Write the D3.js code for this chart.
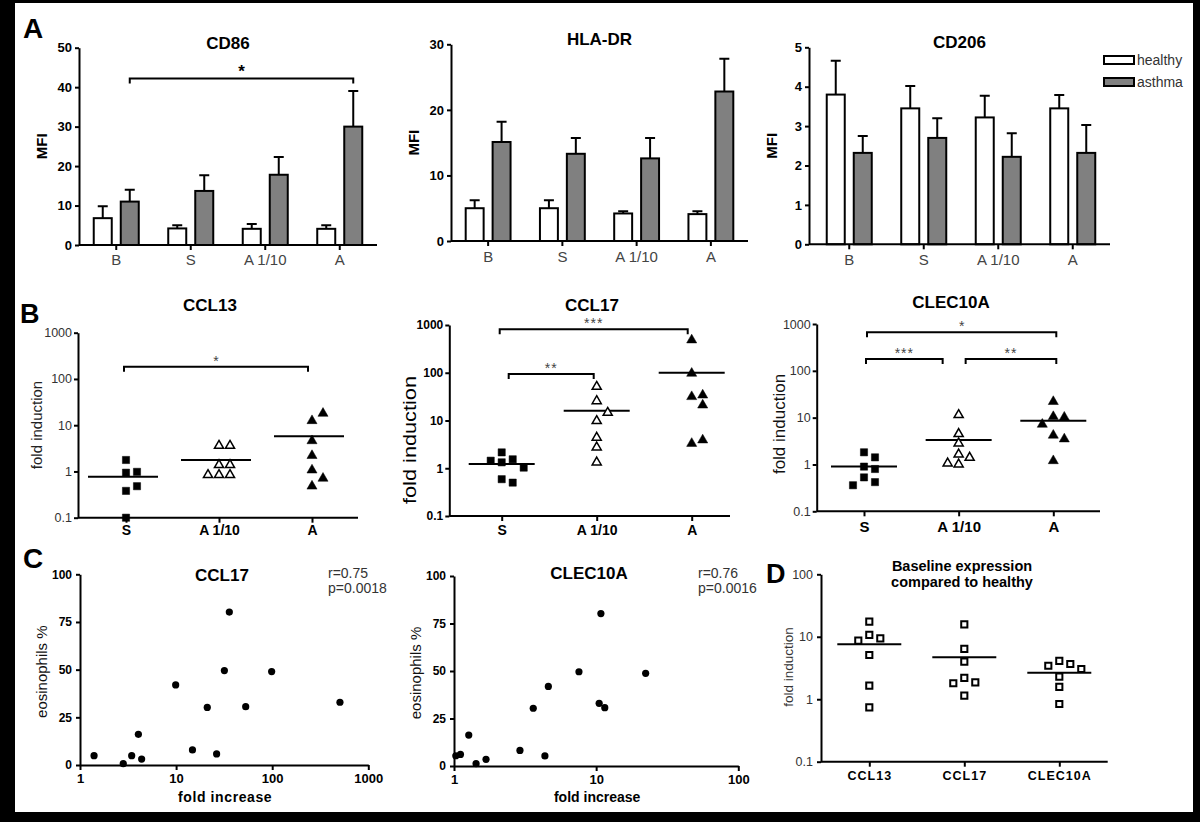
<!DOCTYPE html>
<html><head><meta charset="utf-8">
<script src="https://cdn.jsdelivr.net/npm/d3@7"></script>
<style>body{margin:0;background:#000;} svg{display:block;}</style>
</head><body><svg id="fig" width="1200" height="822"></svg>
<script>
// ---------------- DATA ----------------
// Panel A (mean MFI and SEM)
const barCategories = ["B", "S", "A 1/10", "A"];
const barSeries = ["healthy", "asthma"];
const cd86Healthy = [6.8, 4.2, 4.1, 4.1];
const cd86HealthySem = [3.0, 0.8, 1.2, 0.9];
const cd86Asthma = [11.0, 13.7, 17.8, 30.0];
const cd86AsthmaSem = [3.0, 4.0, 4.5, 9.0];
const hladrHealthy = [5.0, 5.0, 4.2, 4.1];
const hladrHealthySem = [1.2, 1.2, 0.35, 0.45];
const hladrAsthma = [15.1, 13.3, 12.6, 22.8];
const hladrAsthmaSem = [3.1, 2.4, 3.1, 5.0];
const cd206Healthy = [3.8, 3.45, 3.22, 3.45];
const cd206HealthySem = [0.86, 0.57, 0.55, 0.34];
const cd206Asthma = [2.32, 2.7, 2.22, 2.32];
const cd206AsthmaSem = [0.43, 0.5, 0.6, 0.71];
const cd86Ticks = [0, 10, 20, 30, 40, 50];
const hladrTicks = [0, 10, 20, 30];
const cd206Ticks = [0, 1, 2, 3, 4, 5];

// Panel B (fold induction, log scale)
const stimCategories = ["S", "A 1/10", "A"];
const logTicks = [0.1, 1, 10, 100, 1000];
const ccl13S = [1.77, 0.94, 0.98, 0.38, 0.48, 0.1];
const ccl13A110 = [3.6, 3.6, 1.38, 1.38, 0.84, 0.84, 0.84];
const ccl13A = [12.5, 18, 4.6, 2.2, 1.07, 0.48, 0.71];
const ccl13Median = [0.77, 1.77, 5.8];
const ccl17S = [2.15, 1.54, 1.44, 1.33, 1.03, 0.59, 0.50];
const ccl17A110 = [51, 25.6, 9.8, 14.6, 4.4, 2.74, 1.33];
const ccl17A = [485, 97, 31.5, 34, 21, 3.3, 3.9];
const ccl17Median = [1.23, 16, 100];
const clec10aS = [1.82, 1.42, 0.90, 0.80, 0.53, 0.42, 0.36];
const clec10aA110 = [11.4, 4.5, 2.83, 1.65, 1.4, 1.06, 1.01];
const clec10aA = [22, 10.5, 10.2, 7.2, 4.2, 3.5, 1.2];
const clec10aMedian = [0.90, 3.34, 8.6];

// Panel C (fold increase vs eosinophils %)
const ccl17Fold = [1.40, 2.82, 3.45, 4.05, 4.38, 9.9, 14.8, 21.1, 26.4, 31.8, 35.8, 53, 98.7, 507];
const ccl17Eos = [4.9, 0.7, 4.9, 16.1, 3.1, 42, 7.9, 30.2, 5.8, 49.5, 80.2, 30.6, 49, 32.9];
const clec10aFold = [1.03, 1.11, 1.27, 1.43, 1.68, 2.91, 3.61, 4.36, 4.61, 7.57, 10.5, 10.8, 11.5, 22.3];
const clec10aEos = [5.4, 6.1, 16.3, 1.2, 3.5, 8.2, 30.4, 5.3, 41.9, 49.6, 33, 80.2, 30.7, 48.8];
const eosTicks = [0, 25, 50, 75, 100];

// Panel D (baseline expression vs healthy)
const geneCategories = ["CCL13", "CCL17", "CLEC10A"];
const baseCCL13 = [17.5, 10.7, 9.4, 8.7, 5.1, 1.65, 0.74];
const baseCCL17 = [15.8, 6.4, 4.0, 2.2, 1.86, 1.8, 1.14];
const baseCLEC10A = [4.1, 3.66, 3.44, 3.05, 2.3, 1.58, 0.84];
const baseMedian = [7.6, 4.7, 2.66];
const baseTicks = [0.1, 1, 10, 100];

// ---------------- HELPERS ----------------
const F = '"Liberation Sans", Arial, Helvetica, sans-serif';
const svg = d3.select("#fig");
svg.append("rect").attr("x", 15).attr("y", 3).attr("width", 1178).attr("height", 809).attr("fill", "#fff");

function txt(g, x, y, s, o = {}) {
  const t = g.append("text").attr("x", x).attr("y", y).text(s)
    .attr("font-family", F).attr("font-size", o.size || 13)
    .attr("font-weight", o.bold ? "bold" : "normal")
    .attr("fill", o.color || "#000").attr("text-anchor", o.anchor || "middle");
  if (o.ls) t.attr("letter-spacing", o.ls);
  if (o.len) t.attr("textLength", o.len).attr("lengthAdjust", "spacingAndGlyphs");
  return t;
}
function vtxt(g, x, y, s, o = {}) {
  const t = g.append("text").attr("transform", `translate(${x},${y}) rotate(-90)`)
    .attr("dy", "0.35em").text(s)
    .attr("font-family", F).attr("font-size", o.size || 13)
    .attr("font-weight", o.bold ? "bold" : "normal")
    .attr("fill", o.color || "#000").attr("text-anchor", "middle");
  if (o.len) t.attr("textLength", o.len).attr("lengthAdjust", "spacingAndGlyphs");
  return t;
}
function styleAxis(sel, o) {
  sel.attr("font-family", null).attr("font-size", null);
  sel.select(".domain").attr("stroke", "#000").attr("stroke-width", 2);
  sel.selectAll(".tick line").attr("stroke", "#000").attr("stroke-width", 2);
  sel.selectAll(".tick text").attr("font-family", F).attr("font-size", o.size)
    .attr("font-weight", o.bold ? "bold" : "normal").attr("fill", o.color || "#000");
  if (o.ls) sel.selectAll(".tick text").attr("letter-spacing", o.ls);
}
function hLine(g, x1, x2, y) {
  g.append("line").attr("x1", x1).attr("x2", x2).attr("y1", y).attr("y2", y)
    .attr("stroke", "#000").attr("stroke-width", 2);
}
function bracket(g, x1, x2, yb, label, o) {
  g.append("path").attr("d", `M${x1},${yb + 5}V${yb}H${x2}V${yb + 5}`)
    .attr("fill", "none").attr("stroke", "#000").attr("stroke-width", 2);
  txt(g, (x1 + x2) / 2, yb - 1, label, o);
}
function swarm(vals, y, cx, step, thresh) {
  const placed = [];
  const offs = [0, 1, -1, 2, -2, 3, -3];
  return vals.map(v => {
    const py = y(v);
    for (const k of offs) {
      if (!placed.some(p => p.k === k && Math.abs(p.y - py) < thresh)) {
        placed.push({ k, y: py });
        return { v, x: cx + k * step, y: py };
      }
    }
    return { v, x: cx, y: py };
  });
}

// ---------------- PANEL A: bar charts ----------------
function barChart(o) {
  const g = svg.append("g");
  const y = d3.scaleLinear().domain([0, o.yMax]).range([o.yBottom, o.yTop]);
  const x = d3.scaleBand().domain(barCategories).range(o.band);
  const xs = d3.scaleBand().domain(barSeries).range([0, x.bandwidth()]).paddingInner(1 / 3).paddingOuter(0.546);
  const rows = [];
  barCategories.forEach((c, i) => {
    rows.push({ c, s: "healthy", v: o.h[i], e: o.he[i] });
    rows.push({ c, s: "asthma", v: o.a[i], e: o.ae[i] });
  });
  const cx = d => x(d.c) + xs(d.s) + xs.bandwidth() / 2;
  // error bars (upper)
  g.selectAll(null).data(rows).enter().append("path")
    .attr("d", d => `M${cx(d)},${y(d.v)}V${y(d.v + d.e)}M${cx(d) - 5},${y(d.v + d.e)}H${cx(d) + 5}`)
    .attr("stroke", "#000").attr("stroke-width", 2).attr("fill", "none");
  // bars
  g.selectAll(null).data(rows).enter().append("rect")
    .attr("x", d => x(d.c) + xs(d.s)).attr("y", d => y(d.v))
    .attr("width", xs.bandwidth()).attr("height", d => y(0) - y(d.v))
    .attr("fill", d => d.s === "healthy" ? "#fff" : "#808080")
    .attr("stroke", "#000").attr("stroke-width", 2);
  // y axis
  const ya = g.append("g").attr("transform", `translate(${o.axisX0},0)`)
    .call(d3.axisLeft(y).tickValues(o.ticks).tickFormat(d => String(d)).tickSize(4).tickSizeOuter(0).tickPadding(3));
  styleAxis(ya, { size: 13, bold: true });
  // x axis
  const fs = 15;
  const xa = g.append("g").attr("transform", `translate(0,${o.yBottom})`)
    .call(d3.axisBottom(x).tickSize(5).tickSizeOuter(0).tickPadding(o.labelOff - 5 - 0.71 * fs));
  xa.select(".domain").remove();
  styleAxis(xa, { size: fs, color: "#444" });
  hLine(g, o.axisX0, o.axisX1, o.yBottom);
  // labels
  txt(g, (o.axisX0 + o.axisX1) / 2, o.yTop + 1, o.title, { size: 17, bold: true });
  vtxt(g, o.axisX0 - 37, (o.yTop + o.yBottom) / 2, "MFI", { size: 15, bold: true });
  return { g, x, xs, y, cx: (c, s) => x(c) + xs(s) + xs.bandwidth() / 2 };
}

const cd86 = barChart({ title: "CD86", h: cd86Healthy, he: cd86HealthySem, a: cd86Asthma, ae: cd86AsthmaSem,
  yMax: 50, ticks: cd86Ticks, yTop: 47.7, yBottom: 245, band: [79, 377], axisX0: 79, axisX1: 377, labelOff: 20 });
bracket(cd86.g, cd86.cx("B", "asthma"), cd86.cx("A", "asthma"), cd86.y(42.2), "*", { size: 17, bold: true });

barChart({ title: "HLA-DR", h: hladrHealthy, he: hladrHealthySem, a: hladrAsthma, ae: hladrAsthmaSem,
  yMax: 30, ticks: hladrTicks, yTop: 44.3, yBottom: 241, band: [451, 748], axisX0: 451, axisX1: 748, labelOff: 21 });

const cd206 = barChart({ title: "CD206", h: cd206Healthy, he: cd206HealthySem, a: cd206Asthma, ae: cd206AsthmaSem,
  yMax: 5, ticks: cd206Ticks, yTop: 47.3, yBottom: 244.3, band: [812, 1110], axisX0: 809, axisX1: 1110, labelOff: 21 });
// legend
const lg = svg.append("g");
barSeries.forEach((s, i) => {
  lg.append("rect").attr("x", 1104).attr("y", 56 + i * 22).attr("width", 30).attr("height", 8)
    .attr("fill", s === "healthy" ? "#fff" : "#808080").attr("stroke", "#000").attr("stroke-width", 2);
  txt(lg, 1137, 65 + i * 22, s, { size: 14, anchor: "start", color: "#333" });
});

txt(svg, 23, 38, "A", { size: 28, bold: true, anchor: "start" });

// ---------------- PANEL B / D: dot plots ----------------
function dotPlot(o) {
  const g = svg.append("g");
  const y = d3.scaleLog().domain(o.yDomain).range([o.yBottom, o.yTop]);
  const x = d3.scalePoint().domain(o.cats).range(o.xRange);
  const ya = g.append("g").attr("transform", `translate(${o.axisX0},0)`)
    .call(d3.axisLeft(y).tickValues(o.yTicks).tickFormat(d => String(d)).tickSize(4).tickSizeOuter(0).tickPadding(o.yPad || 2));
  styleAxis(ya, o.yStyle);
  const xa = g.append("g").attr("transform", `translate(0,${o.yBottom})`)
    .call(d3.axisBottom(x).tickSize(5).tickSizeOuter(0).tickPadding(o.labelOff - 5 - 0.71 * o.xStyle.size));
  xa.select(".domain").remove();
  styleAxis(xa, o.xStyle);
  hLine(g, o.axisX0, o.axisX1, o.yBottom);
  // median lines
  o.cats.forEach((c, i) => hLine(g, x(c) - o.medHalf + (o.medDx || 0), x(c) + o.medHalf + (o.medDx || 0), y(o.medians[i])));
  // points
  o.groups.forEach((vals, i) => {
    const sh = o.shapes[i];
    const pts = swarm(vals, y, x(o.cats[i]), 11, 9);
    g.selectAll(null).data(pts).enter().append("path")
      .attr("transform", d => `translate(${d.x},${d.y})`)
      .attr("d", d3.symbol(sh.type, sh.size)())
      .attr("fill", sh.open ? "#fff" : "#000")
      .attr("stroke", "#000").attr("stroke-width", sh.open ? sh.sw : 0.5);
  });
  return { g, x, y };
}
const sqFill = { type: d3.symbolSquare, size: 52 };
const triOpen = { type: d3.symbolTriangle, size: 36, open: true, sw: 1.5 };
const triFill = { type: d3.symbolTriangle, size: 44 };
const sqOpen = { type: d3.symbolSquare, size: 38, open: true, sw: 2 };

// CCL13
const b1 = dotPlot({ cats: stimCategories, groups: [ccl13S, ccl13A110, ccl13A], medians: ccl13Median,
  shapes: [sqFill, triOpen, triFill], yDomain: [0.1, 1000], yTicks: logTicks,
  yBottom: 517.7, yTop: 332.7, xRange: [126, 312], axisX0: 78, axisX1: 358, medHalf: 35, medDx: -3,
  labelOff: 17.5, yStyle: { size: 12.5, color: "#333" }, xStyle: { size: 14, bold: true } });
txt(b1.g, 210, 311, "CCL13", { size: 17, bold: true });
vtxt(b1.g, 37, 425, "fold induction", { size: 15, color: "#222" });
bracket(b1.g, b1.x("S") - 2, b1.x("A") - 4, b1.y(184), "*", { size: 14, color: "#444" });

// CCL17
const b2 = dotPlot({ cats: stimCategories, groups: [ccl17S, ccl17A110, ccl17A], medians: ccl17Median,
  shapes: [sqFill, triOpen, triFill], yDomain: [0.1, 1000], yTicks: logTicks,
  yBottom: 516, yTop: 325, xRange: [501.7, 691.7], axisX0: 449.3, axisX1: 730, medHalf: 33,
  labelOff: 19, yStyle: { size: 12, bold: true }, xStyle: { size: 14, bold: true } });
txt(b2.g, 592, 311, "CCL17", { size: 17, bold: true });
vtxt(b2.g, 410, 440, "fold induction", { size: 18, len: 128 });
bracket(b2.g, b2.x("S") - 2, b2.x("A") - 4, b2.y(813), "***", { size: 14, color: "#444", ls: 1 });
bracket(b2.g, b2.x("S") + 7, b2.x("A 1/10") - 3, b2.y(94), "**", { size: 14, color: "#444", ls: 1 });

// CLEC10A
const b3 = dotPlot({ cats: stimCategories, groups: [clec10aS, clec10aA110, clec10aA], medians: clec10aMedian,
  shapes: [sqFill, triOpen, triFill], yDomain: [0.1, 1000], yTicks: logTicks,
  yBottom: 511.3, yTop: 324, xRange: [864, 1053.3], axisX0: 816.7, axisX1: 1100, medHalf: 33,
  labelOff: 21, yStyle: { size: 12.5, color: "#333" }, xStyle: { size: 15, bold: true } });
txt(b3.g, 951, 308, "CLEC10A", { size: 17, bold: true });
vtxt(b3.g, 779, 424, "fold induction", { size: 17, color: "#111" });
bracket(b3.g, b3.x("S") + 3, b3.x("A") + 3, b3.y(665), "*", { size: 14, color: "#444" });
bracket(b3.g, b3.x("S") + 2, b3.x("A 1/10") - 16, b3.y(178), "***", { size: 14, color: "#444", ls: 1 });
bracket(b3.g, b3.x("A 1/10") + 7, b3.x("A") + 3, b3.y(178), "**", { size: 14, color: "#444", ls: 1 });

txt(svg, 20, 323, "B", { size: 27, bold: true, anchor: "start" });

// ---------------- PANEL C: scatter ----------------
function scatter(o) {
  const g = svg.append("g");
  const x = d3.scaleLog().domain(o.xDomain).range([o.axisX0, o.axisX1]);
  const y = d3.scaleLinear().domain([0, 100]).range([o.yBottom, o.yTop]);
  const ya = g.append("g").attr("transform", `translate(${o.axisX0},0)`)
    .call(d3.axisLeft(y).tickValues(eosTicks).tickSize(4).tickSizeOuter(0).tickPadding(4));
  styleAxis(ya, { size: 12, bold: true });
  const xa = g.append("g").attr("transform", `translate(0,${o.yBottom})`)
    .call(d3.axisBottom(x).tickValues(o.xTicks).tickFormat(d => String(d)).tickSize(5).tickSizeOuter(0)
      .tickPadding(18 - 5 - 0.71 * 13));
  styleAxis(xa, { size: 13, bold: true });
  const pts = o.fold.map((f, i) => ({ f, e: o.eos[i] }));
  g.selectAll(null).data(pts).enter().append("circle")
    .attr("cx", d => x(d.f)).attr("cy", d => y(d.e)).attr("r", 3.6).attr("fill", "#000");
  txt(g, o.titleX, o.titleY, o.title, { size: 17, bold: true });
  txt(g, o.rX, 578, o.r, { size: 14, anchor: "start", color: "#333" });
  txt(g, o.rX, 593, o.p, { size: 14, anchor: "start", color: "#333" });
  vtxt(g, o.axisX0 - 38, (o.yTop + o.yBottom) / 2 + 2, "eosinophils %", { size: 15, color: "#111" });
  txt(g, (o.axisX0 + o.axisX1) / 2 + 1, 802, "fold increase", { size: 14, bold: true, ls: o.ls });
  return { g, x, y };
}
scatter({ fold: ccl17Fold, eos: ccl17Eos, xDomain: [1, 1000], xTicks: [1, 10, 100, 1000],
  axisX0: 80, axisX1: 368.3, yBottom: 765, yTop: 574.3, title: "CCL17", titleX: 222, titleY: 581,
  rX: 328, r: "r=0.75", p: "p=0.0018", ls: 0.6 });
scatter({ fold: clec10aFold, eos: clec10aEos, xDomain: [1, 100], xTicks: [1, 10, 100],
  axisX0: 454, axisX1: 738.3, yBottom: 766, yTop: 576, title: "CLEC10A", titleX: 589, titleY: 579,
  rX: 698, r: "r=0.76", p: "p=0.0016", ls: 0 });
txt(svg, 23, 568, "C", { size: 28, bold: true, anchor: "start" });

// ---------------- PANEL D ----------------
const d1 = dotPlot({ cats: geneCategories, groups: [baseCCL13, baseCCL17, baseCLEC10A], medians: baseMedian,
  shapes: [sqOpen, sqOpen, sqOpen], yDomain: [0.1, 100], yTicks: baseTicks,
  yBottom: 761.7, yTop: 574.3, xRange: [869.3, 1059.3], axisX0: 821, axisX1: 1107.7, medHalf: 32,
  labelOff: 18.5, yPad: 4, yStyle: { size: 12.5, color: "#333" }, xStyle: { size: 12.5, bold: true, ls: 1 } });
txt(d1.g, 962, 571, "Baseline expression", { size: 14.5, bold: true });
txt(d1.g, 962, 587, "compared to healthy", { size: 14.5, bold: true });
vtxt(d1.g, 788, 667, "fold induction", { size: 13.5, color: "#333" });
txt(svg, 766, 583, "D", { size: 27, bold: true, anchor: "start" });
</script>
</body></html>
